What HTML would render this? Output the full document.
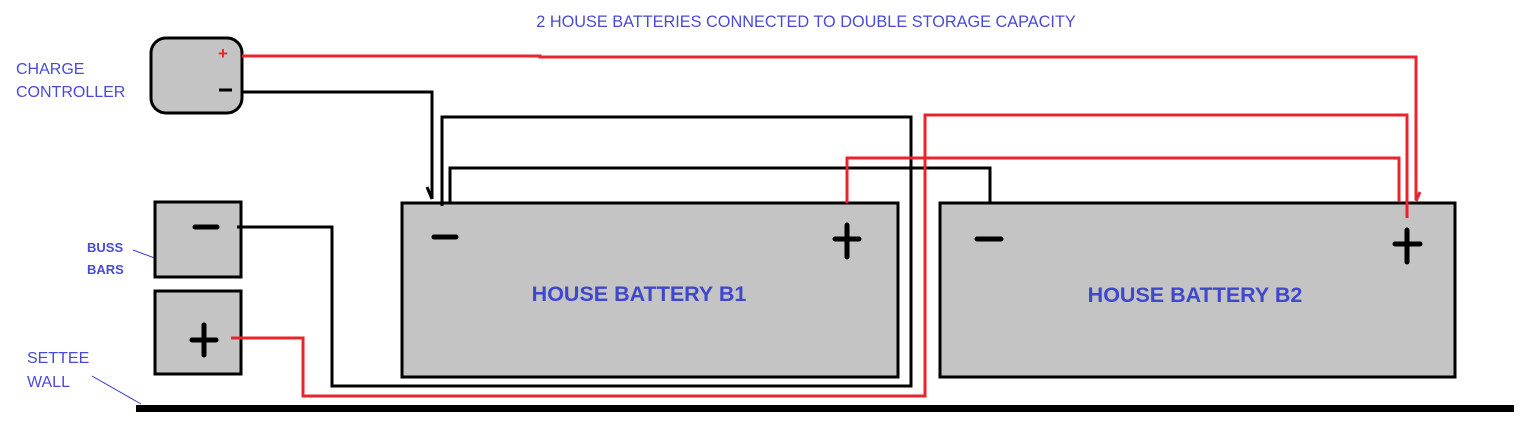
<!DOCTYPE html>
<html><head><meta charset="utf-8"><style>
html,body{margin:0;padding:0;background:#fff;}
svg{display:block;}
text{font-family:"Liberation Sans",sans-serif;}
</style></head><body>
<svg width="1528" height="447" viewBox="0 0 1528 447" xmlns="http://www.w3.org/2000/svg">
<rect width="1528" height="447" fill="#fff"/>
<text x="806" y="27" font-size="16.3" fill="#4a4ad8" text-anchor="middle">2 HOUSE BATTERIES CONNECTED TO DOUBLE STORAGE CAPACITY</text>
<text x="16" y="74" font-size="16" fill="#4a4ad8">CHARGE</text>
<text x="16" y="97" font-size="16" fill="#4a4ad8">CONTROLLER</text>
<text x="87" y="252" font-size="13" font-weight="bold" fill="#4a4ad8">BUSS</text>
<text x="87" y="274" font-size="13" font-weight="bold" fill="#4a4ad8">BARS</text>
<text x="27" y="363" font-size="16" fill="#4a4ad8">SETTEE</text>
<text x="27" y="387" font-size="16" fill="#4a4ad8">WALL</text>
<line x1="133" y1="250" x2="198" y2="274" stroke="#3a3ad0" stroke-width="1"/>
<line x1="92" y1="376" x2="141" y2="404" stroke="#3a3ad0" stroke-width="1"/>

<rect x="151" y="38" width="91" height="75" rx="15" fill="#c4c4c4" stroke="#000" stroke-width="3"/>
<rect x="155" y="202" width="86" height="75" fill="#c4c4c4" stroke="#000" stroke-width="3"/>
<rect x="155" y="291" width="86" height="83" fill="#c4c4c4" stroke="#000" stroke-width="3"/>
<rect x="402" y="203" width="496" height="174" fill="#c4c4c4" stroke="#000" stroke-width="3"/>
<rect x="940" y="203" width="515" height="174" fill="#c4c4c4" stroke="#000" stroke-width="3"/>

<rect x="136" y="405" width="1378" height="7" fill="#000"/>

<g fill="none" stroke-width="3">
<polyline points="242,92 432,92 432,199" stroke="#000"/>
<polyline points="427,187 432,199" stroke="#000"/>
<polyline points="442,206 442,117 911,117 911,386 332,386 332,227 237,227" stroke="#000"/>
<polyline points="450,202 450,168 990,168 990,203" stroke="#000"/>
<polyline points="242,56 540,56 540,57 1416,57 1416,200" stroke="#e8242c"/>
<polyline points="1420,192 1416,201" stroke="#e8242c"/>
<polyline points="847,203 847,158 1399,158 1399,202" stroke="#e8242c"/>
<polyline points="1407,218 1407,115 925,115 925,396 303,396 303,338 231,338" stroke="#e8242c"/>
</g>

<g stroke="#000" stroke-width="5" stroke-linecap="round">
<line x1="195" y1="227" x2="217" y2="227"/>
<line x1="192" y1="340" x2="216" y2="340"/>
<line x1="204" y1="325" x2="204" y2="355"/>
<line x1="434" y1="237" x2="456" y2="237"/>
<line x1="835" y1="239" x2="859" y2="239"/>
<line x1="847" y1="225" x2="847" y2="257"/>
<line x1="977" y1="239" x2="1001" y2="239"/>
<line x1="1395" y1="244" x2="1420" y2="244"/>
<line x1="1407" y1="230" x2="1407" y2="262"/>
</g>
<line x1="219" y1="90" x2="232" y2="90" stroke="#000" stroke-width="3"/>
<text x="223" y="59" font-size="17" font-weight="bold" fill="#e8242c" text-anchor="middle">+</text>

<text x="639" y="301" font-size="21.5" font-weight="bold" fill="#3f48cc" text-anchor="middle">HOUSE BATTERY B1</text>
<text x="1195" y="302" font-size="21.5" font-weight="bold" fill="#3f48cc" text-anchor="middle">HOUSE BATTERY B2</text>
</svg>
</body></html>
